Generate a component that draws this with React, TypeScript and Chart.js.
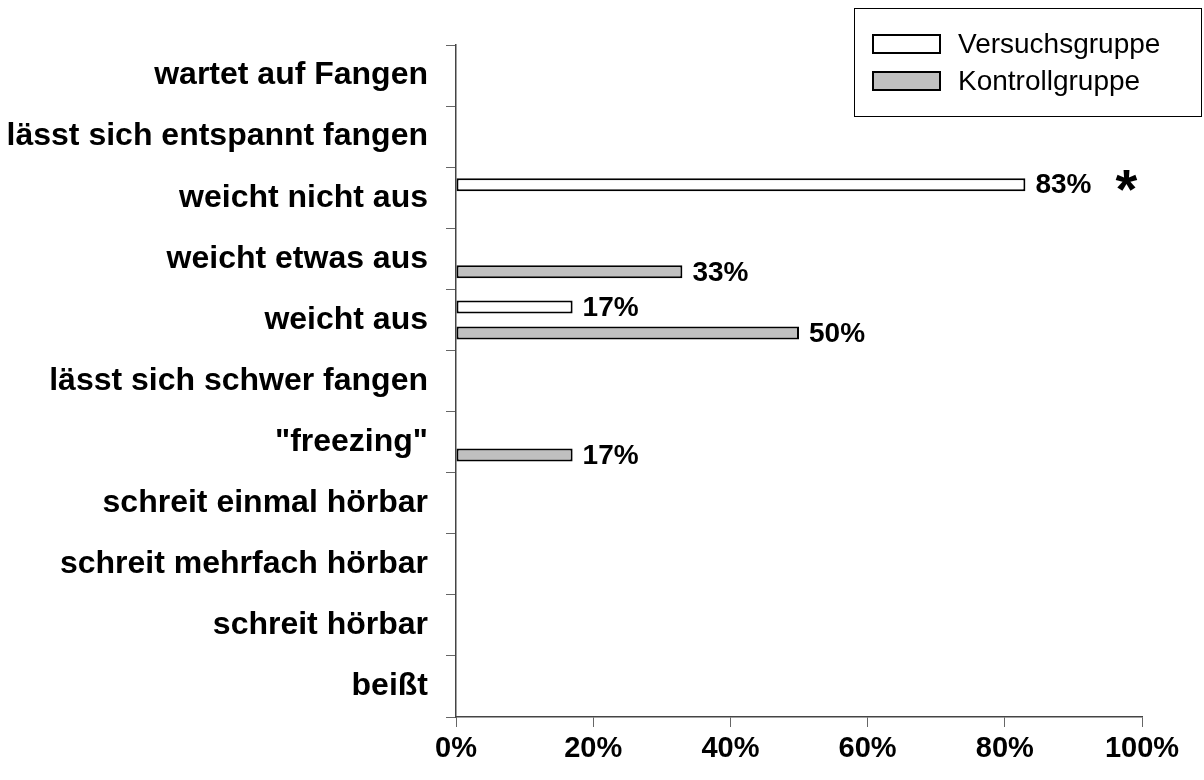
import React, { useEffect, useRef } from "react";
import { Chart, registerables } from "chart.js";

Chart.register(...registerables);

const categories = [
  "wartet auf Fangen",
  "lässt sich entspannt fangen",
  "weicht nicht aus",
  "weicht etwas aus",
  "weicht aus",
  "lässt sich schwer fangen",
  "\"freezing\"",
  "schreit einmal hörbar",
  "schreit mehrfach hörbar",
  "schreit hörbar",
  "beißt",
];
const seriesNames = ["Versuchsgruppe", "Kontrollgruppe"];
const versuchsgruppe = [0, 0, 83, 0, 17, 0, 0, 0, 0, 0, 0];
const kontrollgruppe = [0, 0, 0, 33, 50, 0, 17, 0, 0, 0, 0];
const significance = ["", "", "*", "", "", "", "", "", "", "", ""];
const xTickValues = [0, 20, 40, 60, 80, 100];

const FONT = '"Liberation Sans", Arial, Helvetica, sans-serif';
const fills = ["#ffffff", "#c0c0c0"];

const overlayPlugin = {
  id: "overlay",
  afterDatasetsDraw(chart: any) {
    const ctx = chart.ctx;
    ctx.save();
    // value labels
    ctx.fillStyle = "#000";
    ctx.font = `bold 28px ${FONT}`;
    ctx.textAlign = "left";
    ctx.textBaseline = "middle";
    chart.data.datasets.forEach((ds: any, di: number) => {
      const meta = chart.getDatasetMeta(di);
      meta.data.forEach((bar: any, i: number) => {
        const v = ds.data[i];
        if (!v) return;
        ctx.fillText(`${v}%`, bar.x + 10, bar.y + 1);
      });
    });
    // significance markers
    significance.forEach((mark, i) => {
      if (!mark) return;
      let best: any = null;
      let bestV = -1;
      chart.data.datasets.forEach((ds: any, di: number) => {
        const v = ds.data[i];
        if (v > bestV) {
          bestV = v;
          best = chart.getDatasetMeta(di).data[i];
        }
      });
      if (!best) return;
      ctx.font = `bold 28px ${FONT}`;
      const w = ctx.measureText(`${bestV}%`).width;
      const x = best.x + 10 + w + 24;
      ctx.font = `bold 56px ${FONT}`;
      ctx.textBaseline = "alphabetic";
      ctx.fillText(mark, x, best.y + 23);
    });
    // legend
    const lx = 854.5, ly = 8.5, lw = 347, lh = 108;
    ctx.fillStyle = "#fff";
    ctx.fillRect(lx, ly, lw, lh);
    ctx.strokeStyle = "#000";
    ctx.lineWidth = 1;
    ctx.strokeRect(lx, ly, lw, lh);
    const rows = [44, 81];
    chart.data.datasets.forEach((ds: any, di: number) => {
      const cy = rows[di];
      ctx.fillStyle = ds.backgroundColor;
      ctx.fillRect(873, cy - 9, 67, 18);
      ctx.lineWidth = 2;
      ctx.strokeStyle = "#000";
      ctx.strokeRect(873, cy - 9, 67, 18);
      ctx.fillStyle = "#000";
      ctx.font = `28px ${FONT}`;
      ctx.textBaseline = "middle";
      ctx.textAlign = "left";
      ctx.fillText(ds.label, 958, cy + 1);
    });
    ctx.restore();
  },
};

export default function App() {
  const canvasRef = useRef<HTMLCanvasElement | null>(null);

  useEffect(() => {
    const canvas = canvasRef.current;
    if (!canvas) return;
    Chart.defaults.font.family = FONT;
    Chart.defaults.color = "#000";
    const chart = new Chart(canvas, {
      type: "bar",
      data: {
        labels: categories,
        datasets: [
          {
            label: seriesNames[0],
            data: versuchsgruppe,
            backgroundColor: fills[0],
            borderColor: "#000",
            borderWidth: 2,
            borderSkipped: false,
          },
          {
            label: seriesNames[1],
            data: kontrollgruppe,
            backgroundColor: fills[1],
            borderColor: "#000",
            borderWidth: 2,
            borderSkipped: false,
          },
        ],
      },
      options: {
        indexAxis: "y",
        responsive: false,
        devicePixelRatio: 1,
        animation: false,
        categoryPercentage: 0.85,
        barPercentage: 0.5,
        layout: { padding: { top: 45, right: 62, left: 0, bottom: 0 } },
        plugins: {
          legend: { display: false },
          tooltip: { enabled: false },
        },
        scales: {
          x: {
            type: "linear",
            min: 0,
            max: 100,
            afterFit: (scale: any) => {
              scale.height = 63;
            },
            afterBuildTicks: (scale: any) => {
              scale.ticks = xTickValues.map((v) => ({ value: v }));
            },
            ticks: {
              callback: (v: any) => `${v}%`,
              font: { size: 29, weight: "bold", family: FONT },
              color: "#000",
              padding: 5,
              maxRotation: 0,
            },
            grid: {
              drawOnChartArea: false,
              drawTicks: true,
              tickLength: 10,
              color: "#666",
            },
            border: { color: "#444", width: 1.5 },
          },
          y: {
            type: "category",
            afterFit: (scale: any) => {
              scale.width = 456;
            },
            ticks: {
              font: { size: 32, weight: "bold", family: FONT },
              color: "#000",
              padding: 18,
              autoSkip: false,
            },
            grid: {
              offset: true,
              drawOnChartArea: false,
              drawTicks: true,
              tickLength: 10,
              color: "#666",
            },
            border: { color: "#444", width: 1.5 },
          },
        },
      },
      plugins: [overlayPlugin],
    } as any);
    return () => chart.destroy();
  }, []);

  return (
    <div style={{ position: "absolute", left: 0, top: 0, width: 1204, height: 780, background: "#fff" }}>
      <canvas ref={canvasRef} width={1204} height={780} style={{ display: "block" }} />
    </div>
  );
}
